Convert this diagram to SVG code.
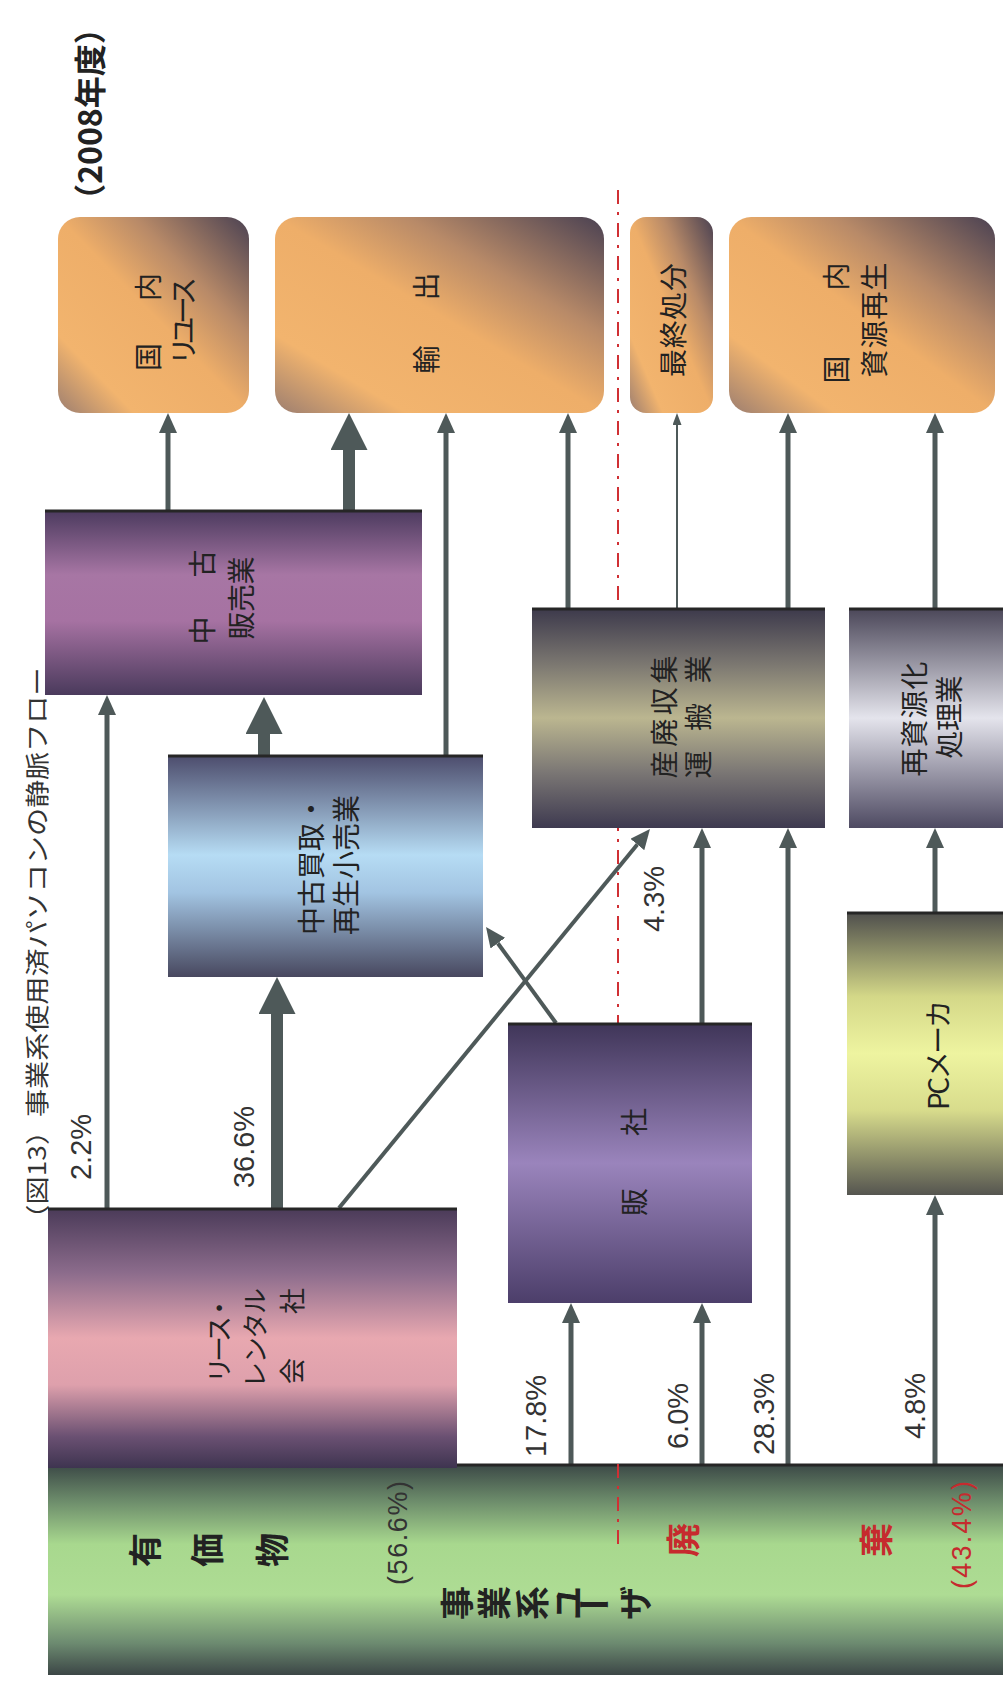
<svg xmlns="http://www.w3.org/2000/svg" width="1003" height="1681" viewBox="0 0 1003 1681">
<defs>
<style>
.t{font-family:"Noto Sans CJK JP","Noto Sans CJK SC",sans-serif;fill:#222;text-anchor:middle;dominant-baseline:central;}
.b{font-size:28px;}
.p{font-family:"Liberation Sans",Arial,sans-serif;font-size:29px;fill:#333;text-anchor:middle;dominant-baseline:central;}
.pp{font-family:"Liberation Sans",Arial,sans-serif;font-size:27px;fill:#333;text-anchor:middle;dominant-baseline:central;}
.big{font-size:34px;font-weight:bold;}
.red{fill:#c62a2e;}
.edge{stroke:#262626;stroke-width:3;}
.c{stroke:#4e5959;fill:none;stroke-width:5;}
.ck{stroke:#4e5959;fill:none;stroke-width:12;}
.cn{stroke:#4e5959;fill:none;stroke-width:2;}
.sep{stroke:#d03034;stroke-width:2;stroke-dasharray:14 8 3 8;fill:none;}
</style>
<linearGradient id="gOr" x1="1" y1="0" x2="0" y2="1">
<stop offset="0" stop-color="#4a4152"/>
<stop offset="0.3" stop-color="#b88a68"/>
<stop offset="0.5" stop-color="#eeae69"/>
<stop offset="0.8" stop-color="#f2b46e"/>
<stop offset="1" stop-color="#9c7e70"/>
</linearGradient>
<linearGradient id="gHan" x1="0" y1="0" x2="0" y2="1">
<stop offset="0" stop-color="#4b3a5e"/>
<stop offset="0.35" stop-color="#a776a4"/>
<stop offset="0.6" stop-color="#a672a2"/>
<stop offset="1" stop-color="#4a3a5c"/>
</linearGradient>
<linearGradient id="gKai" x1="0" y1="0" x2="0" y2="1">
<stop offset="0" stop-color="#4c4c6c"/>
<stop offset="0.45" stop-color="#b6dcf4"/>
<stop offset="0.62" stop-color="#a2c4e2"/>
<stop offset="1" stop-color="#48485f"/>
</linearGradient>
<linearGradient id="gSan" x1="0" y1="0" x2="0" y2="1">
<stop offset="0" stop-color="#3c394b"/>
<stop offset="0.25" stop-color="#7a7670"/>
<stop offset="0.5" stop-color="#bbb690"/>
<stop offset="0.75" stop-color="#7a7674"/>
<stop offset="1" stop-color="#3e3a50"/>
</linearGradient>
<linearGradient id="gShi" x1="0" y1="0" x2="0" y2="1">
<stop offset="0" stop-color="#4a4658"/>
<stop offset="0.5" stop-color="#e4e4ec"/>
<stop offset="1" stop-color="#4e4a62"/>
</linearGradient>
<linearGradient id="gPC" x1="0" y1="0" x2="0" y2="1">
<stop offset="0" stop-color="#4e4e4c"/>
<stop offset="0.3" stop-color="#d4d888"/>
<stop offset="0.5" stop-color="#eef4a0"/>
<stop offset="0.7" stop-color="#d8dc8c"/>
<stop offset="1" stop-color="#555550"/>
</linearGradient>
<linearGradient id="gHs" x1="0" y1="0" x2="0" y2="1">
<stop offset="0" stop-color="#3f3558"/>
<stop offset="0.5" stop-color="#9a84bc"/>
<stop offset="1" stop-color="#4c3e6a"/>
</linearGradient>
<linearGradient id="gLe" x1="0" y1="0" x2="0" y2="1">
<stop offset="0" stop-color="#4a3a58"/>
<stop offset="0.25" stop-color="#8c6c8c"/>
<stop offset="0.5" stop-color="#e8a8b0"/>
<stop offset="0.68" stop-color="#dea0ac"/>
<stop offset="0.88" stop-color="#6a5072"/>
<stop offset="1" stop-color="#3e3450"/>
</linearGradient>
<linearGradient id="gUs" x1="0" y1="0" x2="0" y2="1">
<stop offset="0" stop-color="#3b4846"/>
<stop offset="0.18" stop-color="#6e8e6c"/>
<stop offset="0.38" stop-color="#a8d88e"/>
<stop offset="0.62" stop-color="#aedc94"/>
<stop offset="0.85" stop-color="#6c8a70"/>
<stop offset="1" stop-color="#3c4646"/>
</linearGradient>
<marker id="ah" viewBox="0 0 20 18" refX="0" refY="9" markerWidth="20" markerHeight="18" markerUnits="userSpaceOnUse" orient="auto"><path d="M0,0 L20,9 L0,18 z" fill="#4e5959"/></marker>
<marker id="ahk" viewBox="0 0 37 37" refX="0" refY="18.5" markerWidth="37" markerHeight="37" markerUnits="userSpaceOnUse" orient="auto"><path d="M0,0 L37,18.5 L0,37 z" fill="#4e5959"/></marker>
<marker id="ahn" viewBox="0 0 12 9" refX="0" refY="4.5" markerWidth="12" markerHeight="9" markerUnits="userSpaceOnUse" orient="auto"><path d="M0,0 L12,4.5 L0,9 z" fill="#4e5959"/></marker>
</defs>
<rect width="1003" height="1681" fill="#fff"/>

<g id="titles">
<text class="t" style="font-size:32px;font-weight:bold" transform="translate(88,114) rotate(-90)">（2008年度）</text>
<text class="t" style="font-size:24px;fill:#333" textLength="565" lengthAdjust="spacingAndGlyphs" transform="translate(35,950) rotate(-90)">（図13）事業系使用済パソコンの静脈フロー</text>
</g>

<g id="separator">
<line class="sep" x1="618" y1="190" x2="618" y2="1303"/>
</g>

<g id="connectors">
<line class="c" x1="168" y1="510" x2="168" y2="433" marker-end="url(#ah)"/>
<line class="ck" x1="349" y1="510" x2="349" y2="450" marker-end="url(#ahk)"/>
<line class="c" x1="446" y1="755" x2="446" y2="433" marker-end="url(#ah)"/>
<line class="c" x1="568" y1="608" x2="568" y2="433" marker-end="url(#ah)"/>
<line class="cn" x1="677" y1="608" x2="677" y2="425" marker-end="url(#ahn)"/>
<line class="c" x1="788" y1="608" x2="788" y2="433" marker-end="url(#ah)"/>
<line class="c" x1="935" y1="608" x2="935" y2="433" marker-end="url(#ah)"/>
<line class="ck" x1="264" y1="755" x2="264" y2="734" marker-end="url(#ahk)"/>
<line class="c" x1="107" y1="1208" x2="107" y2="715" marker-end="url(#ah)"/>
<line class="ck" x1="277" y1="1208" x2="277" y2="1014" marker-end="url(#ahk)"/>
<line class="c" style="stroke-width:4" x1="339" y1="1208" x2="637.3" y2="844.5" marker-end="url(#ah)"/>
<line class="c" style="stroke-width:4" x1="556" y1="1023" x2="497.8" y2="943.2" marker-end="url(#ah)"/>
<line class="c" x1="702" y1="1023" x2="702" y2="848" marker-end="url(#ah)"/>
<line class="c" x1="935" y1="912" x2="935" y2="848" marker-end="url(#ah)"/>
<line class="c" x1="788" y1="1465" x2="788" y2="848" marker-end="url(#ah)"/>
<line class="c" x1="571" y1="1465" x2="571" y2="1323" marker-end="url(#ah)"/>
<line class="c" x1="702" y1="1465" x2="702" y2="1323" marker-end="url(#ah)"/>
<line class="c" x1="935" y1="1465" x2="935" y2="1215" marker-end="url(#ah)"/>
</g>

<g id="labels">
<text class="p" transform="translate(81,1147) rotate(-90)">2.2%</text>
<text class="p" transform="translate(244,1147) rotate(-90)">36.6%</text>
<text class="p" transform="translate(654,899) rotate(-90)">4.3%</text>
<text class="p" transform="translate(536,1416) rotate(-90)">17.8%</text>
<text class="p" transform="translate(678,1416) rotate(-90)">6.0%</text>
<text class="p" transform="translate(764,1414) rotate(-90)">28.3%</text>
<text class="p" transform="translate(915,1406) rotate(-90)">4.8%</text>
</g>

<g id="node-domestic-reuse">
<rect x="58" y="217" width="191" height="196" rx="22" fill="url(#gOr)"/>
<text class="t b" textLength="98" transform="translate(147,322) rotate(-90)">国内</text>
<text class="t b" textLength="88" transform="translate(182,321) rotate(-90)">リユース</text>
</g>
<g id="node-export">
<rect x="275" y="217" width="329" height="196" rx="22" fill="url(#gOr)"/>
<text class="t b" textLength="101" transform="translate(425,323) rotate(-90)">輸出</text>
</g>
<g id="node-final-disposal">
<rect x="630" y="217" width="83" height="196" rx="16" fill="url(#gOr)"/>
<text class="t b" textLength="114" transform="translate(672,320) rotate(-90)">最終処分</text>
</g>
<g id="node-domestic-recycling">
<rect x="729" y="217" width="266" height="196" rx="22" fill="url(#gOr)"/>
<text class="t b" textLength="121" transform="translate(835,323) rotate(-90)">国内</text>
<text class="t b" textLength="115" transform="translate(873,320) rotate(-90)">資源再生</text>
</g>

<g id="node-used-sales">
<rect x="45" y="510" width="377" height="185" fill="url(#gHan)"/>
<line class="edge" x1="45" y1="511" x2="422" y2="511"/>
<text class="t b" textLength="95" transform="translate(201,597) rotate(-90)">中古</text>
<text class="t b" textLength="83" transform="translate(240,598) rotate(-90)">販売業</text>
</g>
<g id="node-used-buyback">
<rect x="168" y="755" width="315" height="222" fill="url(#gKai)"/>
<line class="edge" x1="168" y1="756" x2="483" y2="756"/>
<text class="t b" textLength="140" transform="translate(310,865) rotate(-90)">中古買取・</text>
<text class="t b" textLength="140" transform="translate(345,865) rotate(-90)">再生小売業</text>
</g>
<g id="node-industrial-waste-collection">
<rect x="532" y="608" width="293" height="220" fill="url(#gSan)"/>
<line class="edge" x1="532" y1="609" x2="825" y2="609"/>
<text class="t b" textLength="123" transform="translate(663,717) rotate(-90)">産廃収集</text>
<text class="t b" textLength="123" transform="translate(697,717) rotate(-90)">運搬業</text>
</g>
<g id="node-recycling-processing">
<rect x="849" y="608" width="154" height="220" fill="url(#gShi)"/>
<line class="edge" x1="849" y1="609" x2="1003" y2="609"/>
<text class="t b" textLength="115" transform="translate(913,719) rotate(-90)">再資源化</text>
<text class="t b" textLength="83" transform="translate(948,717) rotate(-90)">処理業</text>
</g>
<g id="node-pc-maker">
<rect x="847" y="912" width="156" height="283" fill="url(#gPC)"/>
<line class="edge" x1="847" y1="913" x2="1003" y2="913"/>
<text class="t b" textLength="110" transform="translate(937,1055) rotate(-90)">PCメーカ</text>
</g>
<g id="node-distributor">
<rect x="508" y="1023" width="244" height="280" fill="url(#gHs)"/>
<line class="edge" x1="508" y1="1024" x2="752" y2="1024"/>
<text class="t b" textLength="108" transform="translate(633,1162) rotate(-90)">販社</text>
</g>

<g id="node-business-user">
<rect x="48" y="1464" width="955" height="211" fill="url(#gUs)"/>
<line class="edge" x1="457" y1="1465" x2="1003" y2="1465"/>
<text class="t big" transform="translate(143,1550) rotate(-90)">有</text>
<text class="t big" transform="translate(205,1550) rotate(-90)">価</text>
<text class="t big" transform="translate(270,1550) rotate(-90)">物</text>
<text class="pp" textLength="104" transform="translate(398,1533) rotate(-90)">(56.6%)</text>
<text class="t big red" transform="translate(681,1540) rotate(-90)">廃</text>
<text class="t big red" transform="translate(874,1540) rotate(-90)">棄</text>
<text class="pp red" textLength="108" transform="translate(962,1535) rotate(-90)">(43.4%)</text>
<text class="t big" transform="translate(455,1603) rotate(-90)">事</text>
<text class="t big" transform="translate(492,1603) rotate(-90)">業</text>
<text class="t big" transform="translate(530,1603) rotate(-90)">系</text>
<text class="t big" transform="translate(566,1603) rotate(-90)">ユ</text>
<text class="t big" transform="translate(594,1603)">ー</text>
<text class="t big" transform="translate(633,1603) rotate(-90)">ザ</text>
</g>
<g id="node-lease-rental">
<rect x="48" y="1208" width="409" height="260" fill="url(#gLe)"/>
<line class="edge" x1="48" y1="1209" x2="457" y2="1209"/>
<text class="t" style="font-size:26px" textLength="88" transform="translate(217,1339) rotate(-90)">リース・</text>
<text class="t" style="font-size:26px" textLength="100" transform="translate(253,1338) rotate(-90)">レンタル</text>
<text class="t" style="font-size:26px" textLength="96" transform="translate(290,1336) rotate(-90)">会社</text>
</g>

<g id="separator-overlay">
<line class="sep" x1="618" y1="1464" x2="618" y2="1550"/>
</g>
</svg>
